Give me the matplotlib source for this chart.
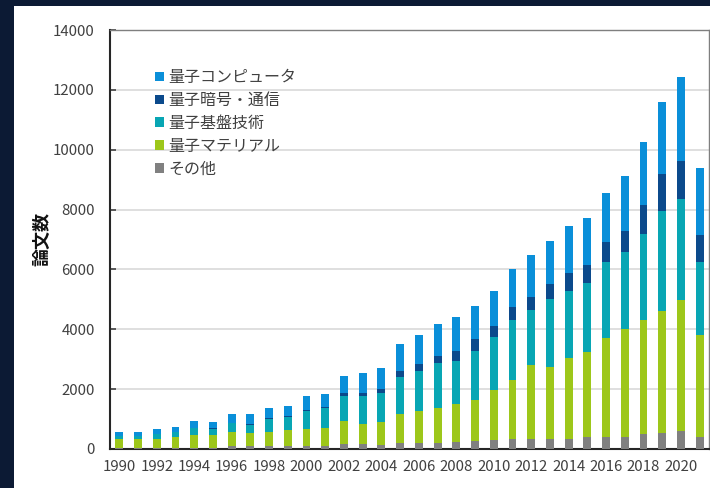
import numpy as np
import matplotlib.pyplot as plt
from matplotlib.patches import Patch, Rectangle

plt.rcParams['font.family'] = ['Noto Sans CJK JP', 'DejaVu Sans']

years = np.arange(1990, 2022)

# papers per year, by field
other = [20, 20, 20, 25, 30, 40, 100, 90, 100, 100, 100, 100, 180, 155, 145, 190,
         190, 190, 220, 255, 300, 335, 335, 335, 335, 410, 410, 400, 490, 545, 615, 400]
material = [330, 300, 330, 365, 450, 420, 470, 460, 480, 540, 580, 600, 750, 690, 760, 990,
            1070, 1190, 1285, 1395, 1680, 1980, 2460, 2420, 2710, 2835, 3300, 3595, 3815, 4060, 4365, 3405]
basic = [80, 110, 140, 180, 225, 220, 285, 265, 430, 430, 600, 660, 825, 935, 970, 1215,
         1360, 1480, 1435, 1635, 1760, 2005, 1850, 2250, 2240, 2295, 2530, 2590, 2890, 3340, 3360, 2430]
crypto = [5, 5, 5, 5, 10, 10, 15, 20, 20, 45, 35, 45, 120, 100, 145, 225,
          235, 255, 325, 380, 355, 410, 425, 500, 580, 600, 680, 715, 950, 1230, 1280, 915]
computer = [140, 135, 175, 165, 215, 215, 290, 325, 330, 335, 460, 435, 570, 645, 680, 890,
            955, 1060, 1135, 1125, 1195, 1280, 1415, 1460, 1570, 1585, 1620, 1810, 2110, 2410, 2810, 2230]

labels = ['その他', '量子マテリアル', '量子基盤技術', '量子暗号・通信', '量子コンピュータ']
colors = ['#808080', '#9dc71a', '#08a6b4', '#0b4a8c', '#0a8fd9']
series = [other, material, basic, crypto, computer]

fig = plt.figure(figsize=(7.1, 4.88), dpi=100)
fig.patch.set_facecolor('#0c1a34')
fig.patches.append(Rectangle((14 / 710, 0), 1, 1 - 6 / 488, transform=fig.transFigure,
                             facecolor='white', edgecolor='none', zorder=-10))

ax = fig.add_axes([110 / 710, 1 - 449 / 488, 599 / 710, 419 / 488])
ax.set_facecolor('white')

x = np.arange(len(years))
bottom = np.zeros(len(years))
for vals, c in zip(series, colors):
    ax.bar(x, vals, width=0.42, bottom=bottom, color=c, edgecolor='none', zorder=3)
    bottom += np.array(vals)

ax.set_xlim(-0.5, len(years) - 0.5)
ax.set_ylim(0, 14000)
ax.set_yticks(np.arange(0, 14001, 2000))
ax.set_xticks(x[::2])
ax.set_xticklabels([str(y) for y in years[::2]])
ax.grid(axis='y', color='#d9d9d9', linewidth=1.2, zorder=0)
ax.tick_params(axis='y', direction='in', length=4, width=1.2, color='#404040',
               pad=11, labelsize=10.8, labelcolor='#404040')
ax.tick_params(axis='x', length=0, pad=8, labelsize=10.8, labelcolor='#404040')

for side in ['left', 'bottom']:
    ax.spines[side].set_color('#262626')
    ax.spines[side].set_linewidth(1.5)
for side in ['top', 'right']:
    ax.spines[side].set_color('#7f7f7f')
    ax.spines[side].set_linewidth(1.0)

ax.set_ylabel('論文数', fontsize=13, fontweight='bold', color='#111111', labelpad=1)

handles = [Patch(facecolor=c, edgecolor='none') for c in colors[::-1]]
leg = ax.legend(handles, labels[::-1], loc='upper left', bbox_to_anchor=(0.064, 0.922),
                frameon=False, fontsize=11.5, handlelength=0.55, handleheight=0.55,
                handletextpad=0.3, labelspacing=0.37, borderaxespad=0)
for t in leg.get_texts():
    t.set_color('#404040')

fig.savefig('out.png', dpi=100, facecolor=fig.get_facecolor())
